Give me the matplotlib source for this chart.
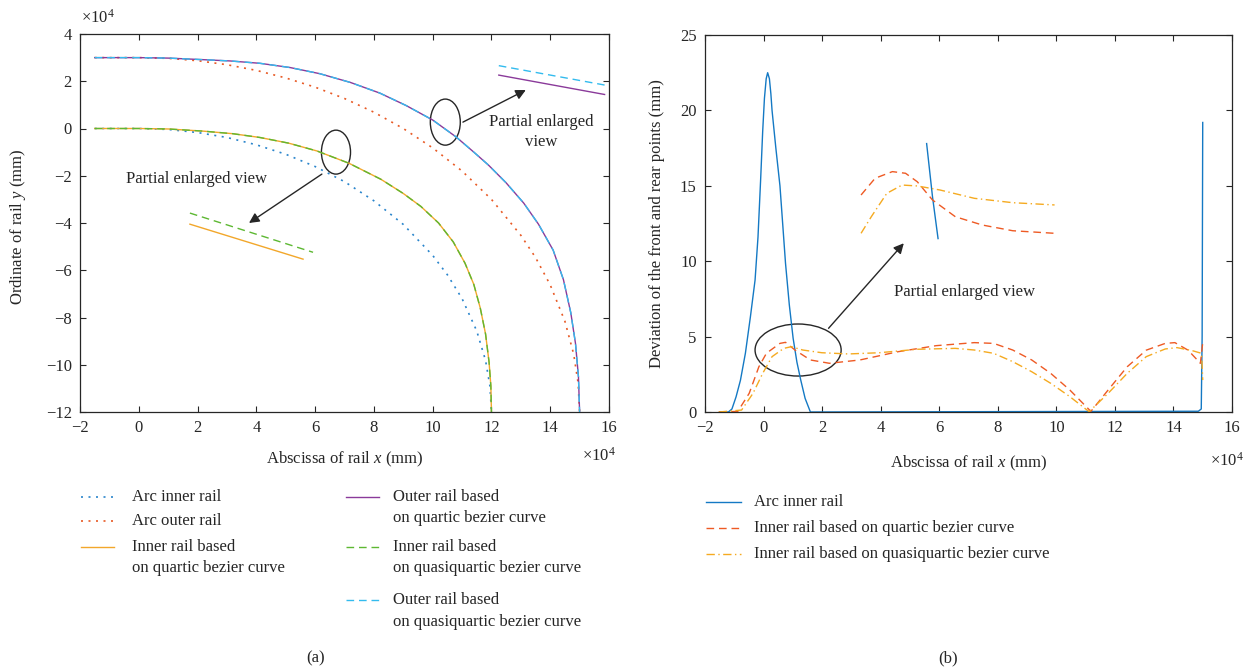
import matplotlib
matplotlib.use("Agg")
import matplotlib.pyplot as plt
from matplotlib.patches import Ellipse
from matplotlib.lines import Line2D

plt.rcParams['font.family'] = ['Liberation Serif', 'DejaVu Serif']
plt.rcParams['mathtext.fontset'] = 'custom'
plt.rcParams['mathtext.rm'] = 'Liberation Serif'
plt.rcParams['mathtext.it'] = 'Liberation Serif:italic'
plt.rcParams['font.size'] = 12

INK = '#262626'

## data (x and y in units of 1e4 mm for panel a, x in 1e4 mm for panel b)

# (a) rail lines
arc_in_x = [-1.5, 0, 1, 2, 3, 4, 5, 6, 7, 8, 9, 10, 10.5, 11, 11.5, 11.8, 11.95, 12]
arc_in_y = [0, 0, -0.04, -0.17, -0.38, -0.69, -1.09, -1.61, -2.25, -3.06, -4.06, -5.37,
            -6.19, -7.20, -8.57, -9.82, -10.91, -12]
arc_out_x = [-1.5, 0, 1, 2, 3, 4, 5, 6, 7, 8, 9, 10, 11, 12, 13, 13.5, 14, 14.5, 14.8, 14.95, 15]
arc_out_y = [3, 3, 2.97, 2.87, 2.70, 2.46, 2.14, 1.75, 1.27, 0.69, 0, -0.82, -1.80, -3.0,
             -4.52, -5.46, -6.62, -8.16, -9.56, -10.78, -12]
bez_in_x = [-1.5, 0, 1.0, 2.18, 3.2, 4.12, 5.1, 6.06, 7.15, 8.24, 9.0, 9.6, 10.2, 10.7,
            11.1, 11.4, 11.62, 11.8, 11.92, 11.98, 12.0]
bez_in_y = [0, 0, -0.02, -0.11, -0.22, -0.38, -0.62, -0.95, -1.47, -2.15, -2.75, -3.3,
            -4.0, -4.8, -5.7, -6.6, -7.6, -8.7, -9.9, -10.9, -12]
bez_out_x = [-1.5, 0, 1.0, 2.08, 3.1, 4.12, 5.15, 6.16, 7.2, 8.2, 9.1, 10.0, 10.8, 11.4,
             11.9, 12.5, 13.1, 13.6, 14.1, 14.45, 14.7, 14.86, 14.96, 15.0]
bez_out_y = [3, 3, 2.98, 2.92, 2.86, 2.76, 2.58, 2.32, 1.95, 1.5, 0.97, 0.36, -0.36, -1.0,
             -1.55, -2.3, -3.16, -4.05, -5.15, -6.4, -7.8, -9.1, -10.5, -12]

# (a) partial enlarged views
zoom_in_x = [1.74, 5.59]
zoom_in_quartic_y = [-4.05, -5.53]
zoom_in_quasi_x = [1.74, 5.93]
zoom_in_quasi_y = [-3.58, -5.24]
zoom_out_x = [12.25, 15.85]
zoom_out_quartic_y = [2.26, 1.44]
zoom_out_quasi_y = [2.66, 1.84]

# (b) deviation of front and rear points
dev_arc_x = [-1.5, -1.2, -1.08, -0.94, -0.79, -0.62, -0.45, -0.29, -0.19, -0.1, -0.03, 0.03,
             0.09, 0.14, 0.2, 0.25, 0.29, 0.42, 0.56, 0.66, 0.75, 0.88, 1.01, 1.14, 1.27,
             1.42, 1.6, 14.85, 14.95, 14.98, 15.0]
dev_arc_y = [0, 0, 0.2, 1.0, 2.1, 3.9, 6.3, 8.75, 11.6, 15.4, 18.6, 20.8,
             22.1, 22.5, 22.1, 21.1, 20.0, 17.5, 15.0, 12.3, 9.86, 7.1, 4.89, 3.3, 2.12,
             0.9, 0, 0.05, 0.2, 5.0, 19.2]
dev_quartic_x = [-1.53, -0.88, -0.49, -0.16, 0.10, 0.56, 0.75, 1.08, 1.6, 2.25, 3.29, 4.6,
                 5.9, 7.2, 7.86, 8.51, 9.16, 9.81, 10.46, 11.18, 11.77, 12.42, 13.07,
                 13.72, 14.05, 14.5, 14.92, 15.0]
dev_quartic_y = [0, 0.04, 1.24, 3.0, 3.9, 4.55, 4.62, 4.1, 3.45, 3.23, 3.45, 4.0,
                 4.4, 4.6, 4.55, 4.11, 3.45, 2.56, 1.46, 0.04, 1.46, 3.0, 4.1,
                 4.55, 4.6, 4.1, 3.23, 4.6]
dev_quasi_x = [-1.53, -0.75, -0.36, -0.03, 0.29, 0.69, 0.95, 1.34, 1.99, 2.9, 3.95, 5.25,
               6.55, 7.2, 7.86, 8.51, 9.16, 9.81, 10.46, 11.12, 11.77, 12.42, 13.07,
               13.72, 14.12, 14.64, 14.96, 15.0]
dev_quasi_y = [0, 0.13, 1.24, 2.56, 3.67, 4.22, 4.33, 4.11, 3.93, 3.85, 3.93, 4.16,
               4.22, 4.11, 3.89, 3.34, 2.67, 1.9, 1.02, 0.02, 1.24, 2.56, 3.67,
               4.18, 4.27, 4.07, 3.89, 2.12]

# (b) partial enlarged view
zoom_arc_x = [5.57, 5.77, 5.96]
zoom_arc_y = [17.8, 14.28, 11.5]
zoom_quartic_x = [3.33, 3.81, 4.4, 4.85, 5.25, 5.77, 6.55, 7.47, 8.51, 9.94]
zoom_quartic_y = [14.39, 15.5, 15.94, 15.83, 15.27, 14.06, 12.95, 12.4, 12.02, 11.85]
zoom_quasi_x = [3.33, 3.68, 4.21, 4.73, 5.25, 6.03, 7.2, 8.51, 9.94]
zoom_quasi_y = [11.85, 12.95, 14.5, 15.05, 14.99, 14.72, 14.17, 13.88, 13.73]

labels_a = ['Arc inner rail', 'Arc outer rail', 'Inner rail based\non quartic bezier curve',
            'Outer rail based\non quartic bezier curve', 'Inner rail based\non quasiquartic bezier curve',
            'Outer rail based\non quasiquartic bezier curve']
labels_b = ['Arc inner rail', 'Inner rail based on quartic bezier curve',
            'Inner rail based on quasiquartic bezier curve']

xticks = [-2, 0, 2, 4, 6, 8, 10, 12, 14, 16]
yticks_a = [-12, -10, -8, -6, -4, -2, 0, 2, 4]
yticks_b = [0, 5, 10, 15, 20, 25]

## styles
DOT = (0, (1.2, 3.3))
DASH = (0, (5.5, 3.5))
DASHDOT = (0, (6, 2.5, 1, 2.5))
st_a = [dict(color='#2a85cc', ls=DOT), dict(color='#E85A25', ls=DOT),
        dict(color='#F2A72B', ls='-'), dict(color='#8a3a9a', ls='-'),
        dict(color='#5DB832', ls=DASH), dict(color='#33BBEE', ls=DASH)]
st_b = [dict(color='#1479C4', ls='-'), dict(color='#EE5A24', ls=DASH),
        dict(color='#F5AA20', ls=DASHDOT)]
LW = 1.0

W, H = 1255, 672
def fx(p):
    return p / W
def fy(p):
    return 1 - p / H

fig = plt.figure(figsize=(W / 100, H / 100), dpi=100)
axA = fig.add_axes([fx(80), fy(412), (609 - 80) / W, (412 - 34) / H])
axB = fig.add_axes([fx(705), fy(412), (1232 - 705) / W, (412 - 35) / H])

def style(ax):
    ax.tick_params(direction='in', top=True, right=True, length=4, width=0.8,
                   colors=INK, labelsize=12, pad=6)
    for s in ax.spines.values():
        s.set_color(INK)
        s.set_linewidth(0.9)

# ---- panel (a)
ax = axA
ax.plot(arc_in_x, arc_in_y, lw=1.2, **st_a[0])
ax.plot(arc_out_x, arc_out_y, lw=1.2, **st_a[1])
ax.plot(bez_in_x, bez_in_y, lw=LW, **st_a[2])
ax.plot(bez_out_x, bez_out_y, lw=LW, **st_a[3])
ax.plot(bez_in_x, bez_in_y, lw=LW, **st_a[4])
ax.plot(bez_out_x, bez_out_y, lw=LW, **st_a[5])
ax.plot(zoom_in_x, zoom_in_quartic_y, lw=LW, **st_a[2])
ax.plot(zoom_in_quasi_x, zoom_in_quasi_y, lw=LW, **st_a[4])
ax.plot(zoom_out_x, zoom_out_quartic_y, lw=LW, **st_a[3])
ax.plot(zoom_out_x, zoom_out_quasi_y, lw=LW, **st_a[5])
ax.add_patch(Ellipse((6.71, -1.0), 0.99, 1.86, fill=False, ec=INK, lw=1.0))
ax.add_patch(Ellipse((10.43, 0.27), 1.02, 1.95, fill=False, ec=INK, lw=1.0))
arr = dict(arrowstyle='-|>', color=INK, lw=1.0, mutation_scale=15, shrinkA=0, shrinkB=0)
ax.annotate('', xy=(3.75, -4.0), xytext=(6.23, -1.93), arrowprops=arr)
ax.annotate('', xy=(13.17, 1.63), xytext=(11.03, 0.27), arrowprops=arr)
ax.text(1.95, -2.14, 'Partial enlarged view', ha='center', va='center', color=INK)
ax.text(13.68, -0.15, 'Partial enlarged\nview', ha='center', va='center', color=INK,
        linespacing=1.3)
ax.set_xlim(-2, 16)
ax.set_ylim(-12, 4)
ax.set_xticks(xticks)
ax.set_yticks(yticks_a)
style(ax)
ax.set_xlabel(r'Abscissa of rail $x$ (mm)', color=INK)
ax.xaxis.set_label_coords(0.5, -0.10)
ax.set_ylabel(r'Ordinate of rail $y$ (mm)', color=INK)
ax.yaxis.set_label_coords(-0.098, 0.49)
fig.text(fx(81), fy(18), r'$\times10^{4}$', ha='left', va='center', color=INK)
fig.text(fx(616), fy(456), r'$\times10^{4}$', ha='right', va='center', color=INK)

# ---- panel (b)
ax = axB
ax.plot(dev_arc_x, dev_arc_y, lw=LW, **st_b[0])
ax.plot(dev_quartic_x, dev_quartic_y, lw=LW, **st_b[1])
ax.plot(dev_quasi_x, dev_quasi_y, lw=LW, **st_b[2])
ax.plot(zoom_arc_x, zoom_arc_y, lw=LW, **st_b[0])
ax.plot(zoom_quartic_x, zoom_quartic_y, lw=LW, **st_b[1])
ax.plot(zoom_quasi_x, zoom_quasi_y, lw=LW, **st_b[2])
ax.add_patch(Ellipse((1.18, 4.11), 2.94, 3.45, fill=False, ec=INK, lw=1.0))
ax.annotate('', xy=(4.79, 11.19), xytext=(2.22, 5.55), arrowprops=arr)
ax.text(6.86, 7.98, 'Partial enlarged view', ha='center', va='center', color=INK)
ax.set_xlim(-2, 16)
ax.set_ylim(0, 25)
ax.set_xticks(xticks)
ax.set_yticks(yticks_b)
style(ax)
ax.set_xlabel(r'Abscissa of rail $x$ (mm)', color=INK)
ax.xaxis.set_label_coords(0.5, -0.11)
ax.set_ylabel('Deviation of the front and rear points (mm)', color=INK)
ax.yaxis.set_label_coords(-0.075, 0.5)
fig.text(fx(1244), fy(461), r'$\times10^{4}$', ha='right', va='center', color=INK)

# ---- legends drawn by hand (handle sits on first text line)
def entry(x0, x1, tx, y, label, st, gap=21.5, lw=LW):
    fig.add_artist(Line2D([fx(x0), fx(x1)], [fy(y), fy(y)], transform=fig.transFigure,
                          lw=lw, **st))
    for i, line in enumerate(label.split('\n')):
        fig.text(fx(tx), fy(y + i * gap), line, ha='left', va='center', color=INK)

entry(81, 114, 132, 497, labels_a[0], st_a[0], lw=1.2)
entry(81, 114, 132, 521, labels_a[1], st_a[1], lw=1.2)
entry(81, 114, 132, 547, labels_a[2], st_a[2])
entry(346, 379, 393, 497, labels_a[3], st_a[3])
entry(346, 379, 393, 547, labels_a[4], st_a[4])
entry(346, 379, 393, 600, labels_a[5], st_a[5])

entry(706, 741, 754, 502, labels_b[0], st_b[0])
entry(706, 741, 754, 528, labels_b[1], st_b[1])
entry(706, 741, 754, 554, labels_b[2], st_b[2])

fig.text(fx(316), fy(658), '(a)', ha='center', va='center', color=INK)
fig.text(fx(948), fy(658), '(b)', ha='center', va='center', color=INK)

fig.savefig('out.png', dpi=100)
